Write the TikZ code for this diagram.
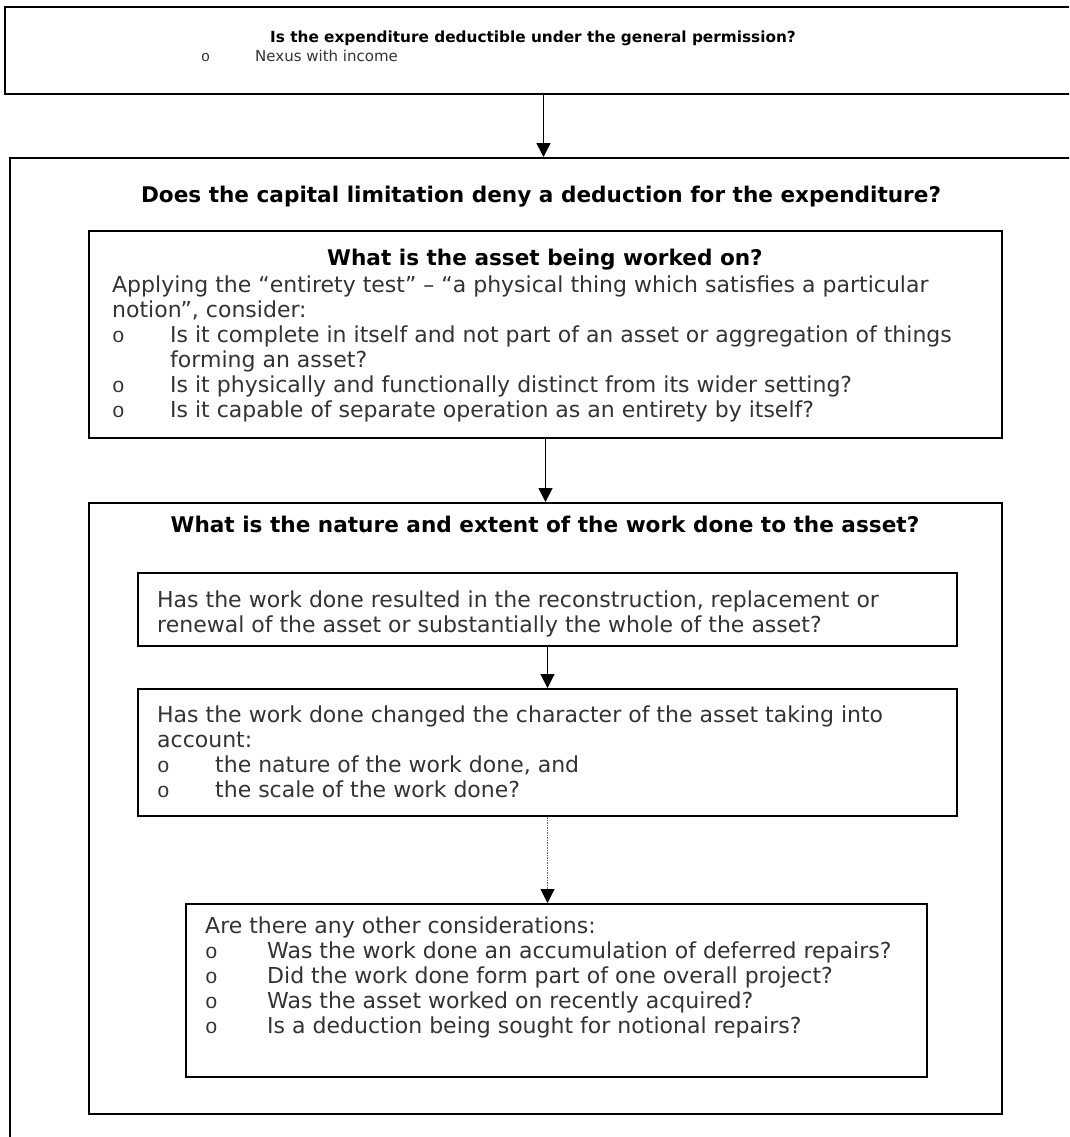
\documentclass[tikz,border=0pt]{standalone}
\usepackage{fontspec}
\setmainfont{DejaVu Sans}
\newfontfamily\bulletfont{Liberation Mono}
\usetikzlibrary{arrows.meta}

\tikzset{
    frame/.style={draw, line width=2pt, anchor=north west, inner sep=0pt},
    question/.style={font=\fontsize{21.6}{25}\selectfont\bfseries, anchor=base, inner sep=0pt},
    body/.style={font=\fontsize{22}{25}\selectfont, text=black!80, anchor=base west, inner sep=0pt},
    bullet/.style={body, font=\fontsize{21}{25}\bulletfont},
    link/.style={line width=1.6pt, -{Triangle[width=14pt, length=14pt, color=black]}},
}

\begin{document}
\begin{tikzpicture}[x=1pt, y=-1pt]

    \useasboundingbox (0,0) rectangle (1069,1137);
    \clip (0,0) rectangle (1069,1137);

    % general permission
    \node[frame, minimum width=1077pt, minimum height=87pt] (general) at (4,6) {};
    \node[question, font=\fontsize{15.3}{19}\selectfont\bfseries] (generalq) at (533,43)
        {Is the expenditure deductible under the general permission?};
    \node[bullet, font=\fontsize{15}{19}\bulletfont] (nexusb) at (201,62) {o};
    \node[body, font=\fontsize{15}{19}\selectfont] (nexus) at (255,62) {Nexus with income};

    % capital limitation
    \node[frame, minimum width=1064pt, minimum height=1000pt] (capital) at (9,157) {};
    \node[question] (capitalq) at (541,202)
        {Does the capital limitation deny a deduction for the expenditure?};

    % the asset
    \node[frame, minimum width=913pt, minimum height=207pt] (asset) at (88,230) {};
    \node[question] (assetq) at (545,265) {What is the asset being worked on?};
    \foreach \x/\y/\txt in {
        112/292/{Applying the “entirety test” – “a physical thing which satisfies a particular},
        112/317/{notion”, consider:},
        170/342/{Is it complete in itself and not part of an asset or aggregation of things},
        170/367/{forming an asset?},
        170/392/{Is it physically and functionally distinct from its wider setting?},
        170/417/{Is it capable of separate operation as an entirety by itself?}%
    } {
        \node[body] (asset\y) at (\x,\y) {\txt};
    }
    \foreach \y in {342, 392, 417} {
        \node[bullet] (assetb\y) at (112,\y) {o};
    }

    % the work done
    \node[frame, minimum width=913pt, minimum height=611pt] (work) at (88,502) {};
    \node[question] (workq) at (545,532)
        {What is the nature and extent of the work done to the asset?};

    \node[frame, minimum width=819pt, minimum height=73pt] (renewal) at (137,572) {};
    \node[body] (renewal1) at (157,607)
        {Has the work done resulted in the reconstruction, replacement or};
    \node[body] (renewal2) at (157,632)
        {renewal of the asset or substantially the whole of the asset?};

    \node[frame, minimum width=819pt, minimum height=127pt] (character) at (137,688) {};
    \foreach \x/\y/\txt in {
        157/722/{Has the work done changed the character of the asset taking into},
        157/747/{account:},
        215/772/{the nature of the work done, and},
        215/797/{the scale of the work done?}%
    } {
        \node[body] (character\y) at (\x,\y) {\txt};
    }
    \foreach \y in {772, 797} {
        \node[bullet] (characterb\y) at (157,\y) {o};
    }

    \node[frame, minimum width=741pt, minimum height=173pt] (other) at (185,903) {};
    \node[body] (other933) at (205,933) {Are there any other considerations:};
    \foreach \y/\txt in {
        958/{Was the work done an accumulation of deferred repairs?},
        983/{Did the work done form part of one overall project?},
        1008/{Was the asset worked on recently acquired?},
        1033/{Is a deduction being sought for notional repairs?}%
    } {
        \node[bullet] (otherb\y) at (205,\y) {o};
        \node[body] (other\y) at (267,\y) {\txt};
    }

    % connectors
    \draw[link] (general.south) -- (general.south |- capital.north);
    \draw[link] (asset.south) -- (work.north);
    \draw[link, line width=1.2pt] (renewal.south) -- (character.north);
    \draw[link, line width=1pt, draw=black!60, dash pattern=on 1.5pt off 1pt]
        (character.south) -- (character.south |- other.north);

\end{tikzpicture}
\end{document}
